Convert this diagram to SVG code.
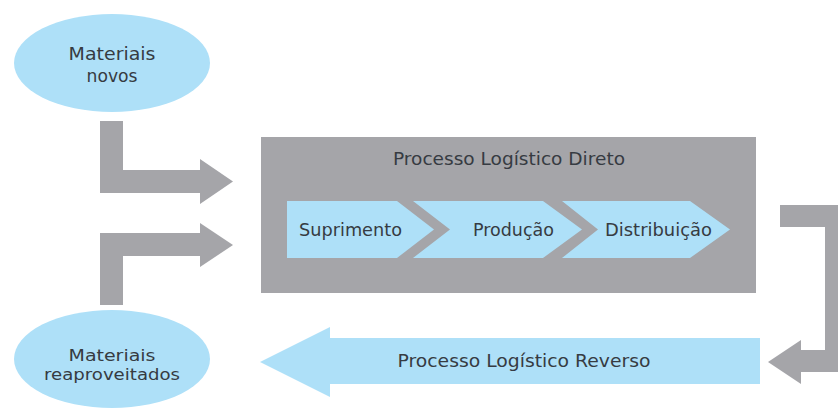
<svg xmlns="http://www.w3.org/2000/svg" width="838" height="408" viewBox="0 0 838 408">
<style>
.blue{fill:#aee0f8}
.gray{fill:#a5a5a9}
text{font-family:"DejaVu Sans","Liberation Sans",sans-serif;font-size:17px;fill:#363b42;text-anchor:middle}
.sm{font-size:16px}
</style>
<rect width="838" height="408" fill="#ffffff"/>
<g id="connectors">
<polygon class="gray" points="100,121 123,121 123,170 200,170 200,159 233,181.5 200,204 200,193 100,193"/>
<polygon class="gray" points="100,305 100,233 200,233 200,223 233,245 200,267 200,256 123,256 123,305"/>
<polygon class="gray" points="780,205 840,205 840,372 801,372 801,384 768,362 801,340 801,350 825,350 825,227 780,227"/>
</g>
<g id="materiais-novos">
<ellipse class="blue" cx="112" cy="63" rx="98" ry="49"/>
<text x="112" y="60" textLength="87" lengthAdjust="spacingAndGlyphs">Materiais</text>
<text x="112" y="82" textLength="51" lengthAdjust="spacingAndGlyphs">novos</text>
</g>
<g id="materiais-reaproveitados">
<ellipse class="blue" cx="112" cy="359" rx="98" ry="49"/>
<text class="sm" x="112" y="361" textLength="87" lengthAdjust="spacingAndGlyphs">Materiais</text>
<text class="sm" x="112" y="380" textLength="136" lengthAdjust="spacingAndGlyphs">reaproveitados</text>
</g>
<g id="processo-direto">
<rect class="gray" x="261" y="137" width="495" height="156"/>
<text x="509" y="165" textLength="232" lengthAdjust="spacingAndGlyphs">Processo Logístico Direto</text>
</g>
<g id="suprimento">
<polygon class="blue" points="287,201 397,201 434,229.5 397,258 287,258"/>
<text x="350.5" y="236" textLength="103" lengthAdjust="spacingAndGlyphs">Suprimento</text>
</g>
<g id="producao">
<polygon class="blue" points="413,201 543,201 582,229.5 543,258 413,258 450,229.5"/>
<text x="513.5" y="236" textLength="81" lengthAdjust="spacingAndGlyphs">Produção</text>
</g>
<g id="distribuicao">
<polygon class="blue" points="562,201 690,201 730,229.5 690,258 562,258 598,229.5"/>
<text x="658.5" y="236" textLength="107" lengthAdjust="spacingAndGlyphs">Distribuição</text>
</g>
<g id="processo-reverso">
<polygon class="blue" points="760,338 760,384 330,384 330,397 260,362 330,327 330,338"/>
<text x="524" y="367" textLength="253" lengthAdjust="spacingAndGlyphs">Processo Logístico Reverso</text>
</g>
</svg>
